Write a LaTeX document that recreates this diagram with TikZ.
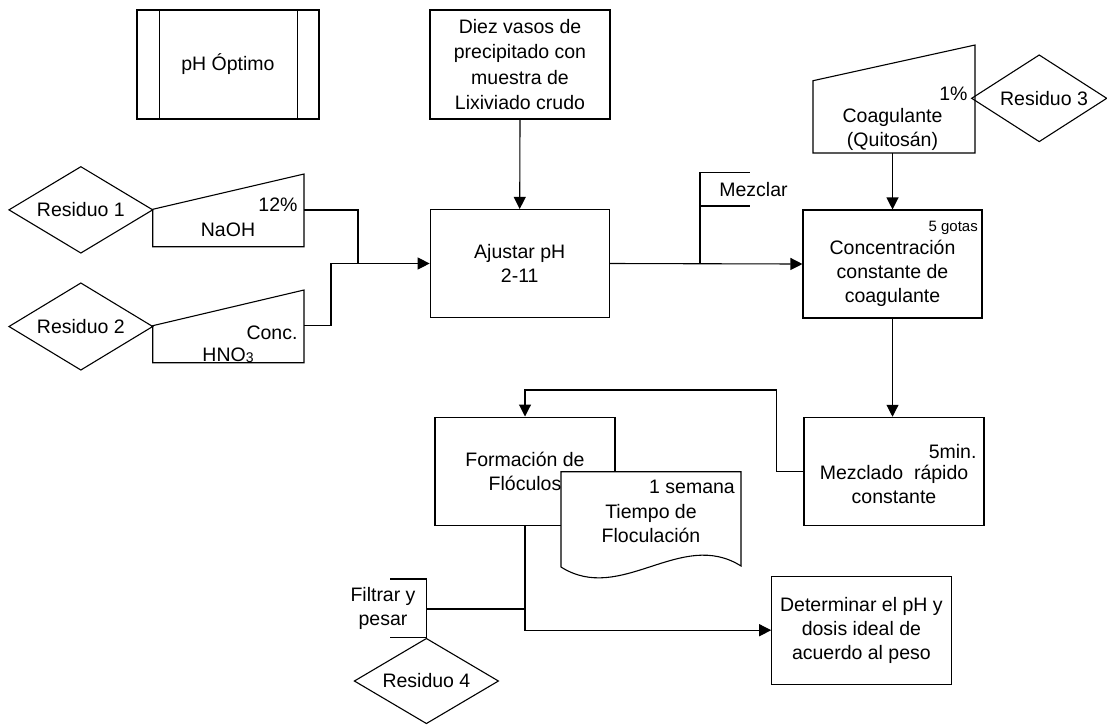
\documentclass[tikz,border=0pt]{standalone}
\usepackage{fontspec}
\setmainfont{Liberation Sans}
\usetikzlibrary{arrows.meta}

% diamond waste marker: name, centre x, centre y, half width, half height, text
\newcommand{\residuo}[6]{%
  \node[txt] (#1) at (#2,#3) {#6};
  \draw[line] ([xshift=-#4pt]#1.center) -- ([yshift=#5pt]#1.center)
    -- ([xshift=#4pt]#1.center) -- ([yshift=-#5pt]#1.center) -- cycle;
}

\begin{document}
\begin{tikzpicture}[x=1pt,y=-1pt,
  txt/.style={inner sep=0pt, align=center, font=\fontsize{19.5}{24}\selectfont},
  small/.style={inner sep=0pt, font=\fontsize{15}{18}\selectfont},
  line/.style={line width=1.1pt, draw=black},
  box/.style={draw=black, line width=1.1pt, rectangle, inner sep=0pt, align=center,
    font=\fontsize{19.5}{24}\selectfont},
  arr/.style={line, -{Triangle[length=12pt,width=12pt]}}
]
\useasboundingbox (0,0) rectangle (1107,724);

% ---------- boxes ----------
\node[box, minimum width=182pt, minimum height=109pt] (ph) at (228,64.5) {pH Óptimo};
\draw[line] ([xshift=23pt]ph.north west) -- ([xshift=23pt]ph.south west);
\draw[line] ([xshift=-22pt]ph.north east) -- ([xshift=-22pt]ph.south east);

\node[box, minimum width=180pt, minimum height=109pt,
  font=\fontsize{19.5}{25.5}\selectfont] (diez) at (520,64.5)
  {Diez vasos de\\precipitado con\\muestra de\\Lixiviado crudo};

\node[box, minimum width=179pt, minimum height=108pt] (ajustar) at (519.7,263.5)
  {Ajustar pH\\2-11};

\node[box, minimum width=179pt, minimum height=108pt] (conc) at (892.5,264) {};
\node[txt] (conct) at (892.5,273) {Concentración\\constante de\\coagulante};
\node[small, anchor=east] (gotas) at (978,228) {5 gotas};

\node[box, minimum width=180pt, minimum height=108.4pt] (mezc) at (894,471.5) {};
\node[txt] (mezct) at (894,484.5) {Mezclado\ \ rápido\\constante};
\node[txt, anchor=east] (min) at (976.7,451.7) {5min.};

\node[box, line width=1.8pt, minimum width=180pt, minimum height=108pt] (form) at (525,471.4)
  {Formación de\\Flóculos};

\node[box, minimum width=179.3pt, minimum height=108.3pt] (determ) at (861.4,630.2)
  {Determinar el pH y\\dosis ideal de\\acuerdo al peso};

% ---------- document shape over the floc box ----------
\coordinate (d1) at (561,471.7);
\coordinate (d2) at (741,471.7);
\coordinate (d3) at (741,566);
\coordinate (d4) at (561,567);
\draw[line, fill=white] (d4) -- (d1) -- (d2) -- (d3)
  .. controls (681,528) and (621,605) .. (d4);
\node[txt, anchor=east] (sem) at (735,487) {1 semana};
\node[txt] (tiempo) at (651,524) {Tiempo de\\Floculación};

% ---------- manual inputs ----------
\coordinate (na1) at (152.7,209.3);
\coordinate (na2) at (304,174);
\coordinate (na3) at (304,246.7);
\coordinate (na4) at (152.7,246.7);
\draw[line] (na1) -- (na2) -- (na3) -- (na4) -- cycle;
\node[txt, anchor=east] (na-p) at (297.7,205) {12\%};
\node[txt] (naoh) at (228,230) {NaOH};
\coordinate (na-out) at (304,210);

\coordinate (hn1) at (152.7,325.7);
\coordinate (hn2) at (304,290);
\coordinate (hn3) at (304,362.7);
\coordinate (hn4) at (152.7,362.7);
\draw[line] (hn1) -- (hn2) -- (hn3) -- (hn4) -- cycle;
\node[txt, anchor=east] (conc-lbl) at (297.7,332.7) {Conc.};
\node[txt] (hno) at (228,355) {HNO\raisebox{-1.5pt}{\fontsize{14}{14}\selectfont 3}};
\coordinate (hn-out) at (304,325.7);

\coordinate (co1) at (813,80.7);
\coordinate (co2) at (975,45);
\coordinate (co3) at (975,153);
\coordinate (co4) at (813,153);
\draw[line] (co1) -- (co2) -- (co3) -- (co4) -- cycle;
\node[txt, anchor=east] (co-p) at (967.7,93.3) {1\%};
\node[txt] (coag) at (892.5,129) {Coagulante\\(Quitosán)};
\coordinate (co-out) at (892.5,153);

% ---------- waste diamonds ----------
\residuo{r1}{80.85}{209.85}{71.85}{43.15}{Residuo 1}
\residuo{r2}{80.85}{326.5}{71.85}{43.5}{Residuo 2}
\residuo{r4}{426.4}{681}{72}{42.5}{Residuo 4}
\node[txt] (r3) at (1044,98.3) {Residuo 3};
\coordinate (r3c) at (1039.2,98.3);
\draw[line] ([xshift=-67.5pt]r3c) -- ([yshift=43.3pt]r3c) -- ([xshift=67.5pt]r3c)
  -- ([yshift=-43.3pt]r3c) -- cycle;

% ---------- bracket notes ----------
\coordinate (mz-b) at (700,263.5);
\coordinate (mz-t) at (700,172.7);
\coordinate (mz-m) at (700,206);
\draw[line] (mz-b) -- (mz-t) -- ++(50,0);
\draw[line] (mz-m) -- ++(50,0);
\node[txt] (mezclar) at (753.5,190) {Mezclar};

\coordinate (fi-t) at (426.7,579);
\coordinate (fi-b) at (426.7,637.7);
\coordinate (fi-m) at (426.7,609);
\draw[line] ([xshift=-36.7pt]fi-t) -- (fi-t) -- (fi-b) -- ++(-36.7,0);
\node[txt] (filtrar) at (383,608.5) {Filtrar y\\pesar};

% ---------- connectors ----------
\draw[arr] (diez.south) -- (ajustar.north);
\coordinate (j1) at (358,263.5);
\coordinate (j2) at (331,263.5);
\draw[line] (na-out) -| (j1);
\draw[line] (hn-out) -| (j2) -- (j1);
\draw[arr] (j1) -- (ajustar.west);
\draw[arr] (ajustar.east) -- (conc.west);
\draw[arr] (co-out) -- (co-out |- conc.north);
\draw[arr] (conc.south) -- (conc.south |- mezc.north);
\coordinate (fb1) at (776.7,390);
\draw[arr] (mezc.west) -| (fb1) -| (form.north);
\coordinate (fo-j) at (525,609);
\draw[arr] (form.south) |- (determ.west);
\draw[line] (fi-m) -- (fo-j);

\end{tikzpicture}
\end{document}
